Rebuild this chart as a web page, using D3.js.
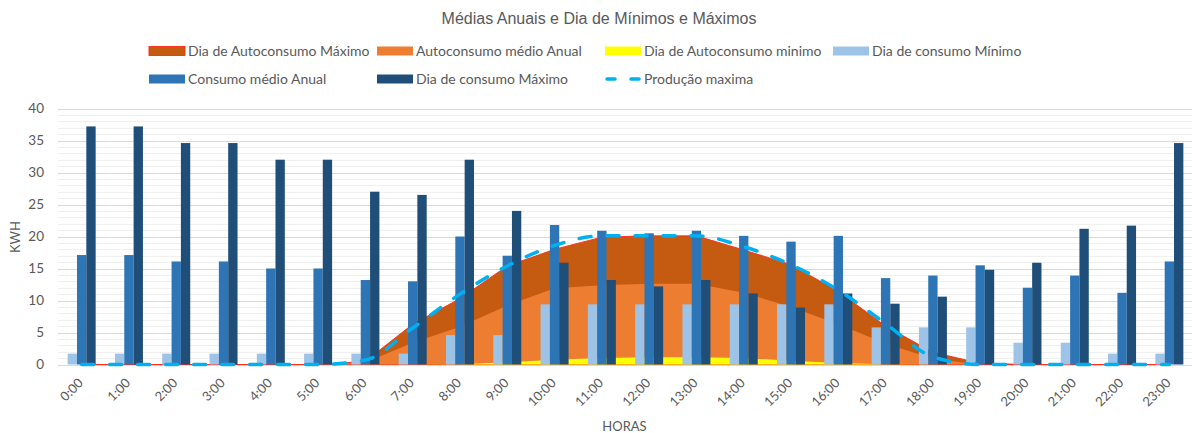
<!DOCTYPE html>
<html>
<head>
<meta charset="utf-8">
<script src="https://cdn.jsdelivr.net/npm/d3@7"></script>
<style>
  html, body { margin: 0; padding: 0; background: #fff; }
  svg { display: block; }
  text { font-family: Lato, "Open Sans", sans-serif; fill: #595959; }
</style>
</head>
<body>
<svg id="chart" width="1192" height="433"></svg>
<script>
// Hourly categories
const hours = ["0:00","1:00","2:00","3:00","4:00","5:00","6:00","7:00","8:00","9:00","10:00","11:00",
               "12:00","13:00","14:00","15:00","16:00","17:00","18:00","19:00","20:00","21:00","22:00","23:00"];

// Self-consumption areas (kWh)
const autoconsumoMaximo = [0,0,0,0,0,0,0.5,6.3,10.3,15.4,18.0,19.9,20.1,20.1,17.9,15.6,11.4,6.0,1.9,0.2,0,0,0,0];
const autoconsumoMedio  = [0,0,0,0,0,0,0.3,3.4,5.9,9.2,11.9,12.4,12.6,12.6,11.2,9.0,6.3,3.3,0.9,0,0,0,0,0];
const autoconsumoMinimo = [0,0,0,0,0,0,0,0,0.05,0.35,0.75,1.0,1.15,1.15,1.0,0.6,0.25,0.05,0,0,0,0,0,0];

// Consumption columns (kWh)
const consumoMinimo = [1.7,1.7,1.7,1.7,1.7,1.7,1.7,1.7,4.6,4.6,9.4,9.4,9.4,9.4,9.4,9.4,9.4,5.8,5.8,5.8,3.4,3.4,1.7,1.7];
const consumoMedio  = [17.1,17.1,16.1,16.1,15.0,15.0,13.2,13.0,20.0,17.0,21.8,20.9,20.5,20.9,20.1,19.2,20.1,13.5,13.9,15.5,12.0,13.9,11.2,16.1];
const consumoMaximo = [37.2,37.2,34.6,34.6,32.0,32.0,27.0,26.5,32.0,24.0,15.9,13.2,12.2,13.2,11.1,8.9,11.1,9.5,10.6,14.8,15.9,21.2,21.7,34.6];

// Maximum production line (kWh)
const producaoMaxima = [0,0,0,0,0,0,0.7,5.7,11.0,15.4,18.6,20.1,20.1,20.1,18.4,15.6,11.6,6.4,1.2,0,0,0,0,0];

// Axis ticks
const yTicks = [0,5,10,15,20,25,30,35,40];

const titleText = "Médias Anuais e Dia de Mínimos e Máximos";
const xTitle = "HORAS";
const yTitle = "KWH";

const colors = {
  autoMax: "#C55A11", autoMaxLine: "#FF2A1A", autoMed: "#ED7D31", autoMin: "#FFFF00",
  consMin: "#9DC3E6", consMed: "#2E75B6", consMax: "#1F4E79", prod: "#00B0F0"
};

const svg = d3.select("#chart");
const plot = { left: 58, right: 1193, top: 108.5, bottom: 364.5 };

const x = d3.scaleBand().domain(hours).range([plot.left, plot.right]).paddingInner(0).paddingOuter(0);
const cx = h => x(h) + x.bandwidth() / 2;
const y = d3.scaleLinear().domain([0, 40]).range([plot.bottom, plot.top]);

// Gridlines: light minor every unit, stronger major every 5
const gridG = svg.append("g");
gridG.selectAll("line.minor")
  .data(d3.range(1, 40).filter(v => v % 5 !== 0))
  .join("line")
  .attr("x1", plot.left).attr("x2", plot.right)
  .attr("y1", d => Math.round(y(d)) + 0.5).attr("y2", d => Math.round(y(d)) + 0.5)
  .attr("stroke", "#f0f0f0").attr("stroke-width", 1);
gridG.selectAll("line.major")
  .data(yTicks)
  .join("line")
  .attr("x1", plot.left).attr("x2", plot.right)
  .attr("y1", d => Math.round(y(d)) + 0.5).attr("y2", d => Math.round(y(d)) + 0.5)
  .attr("stroke", "#d9d9d9").attr("stroke-width", 1);

// Areas
const areaGen = vals => d3.area()
  .x((d, i) => cx(hours[i]))
  .y0(y(0))
  .y1(d => y(d))(vals);

svg.append("path").attr("d", areaGen(autoconsumoMaximo))
  .attr("fill", colors.autoMax).attr("stroke", colors.autoMaxLine).attr("stroke-width", 0.9);
svg.append("path").attr("d", areaGen(autoconsumoMedio)).attr("fill", colors.autoMed);
svg.append("path").attr("d", areaGen(autoconsumoMinimo)).attr("fill", colors.autoMin);

// Clustered columns
const seriesBars = [
  { key: "min", values: consumoMinimo, color: colors.consMin },
  { key: "med", values: consumoMedio, color: colors.consMed },
  { key: "max", values: consumoMaximo, color: colors.consMax }
];
const groupW = 28;
const xInner = d3.scaleBand().domain(seriesBars.map(s => s.key)).range([0, groupW]).padding(0);
const barsG = svg.append("g");
seriesBars.forEach(s => {
  barsG.append("g").selectAll("rect")
    .data(s.values)
    .join("rect")
    .attr("x", (d, i) => x(hours[i]) + (x.bandwidth() - groupW) / 2 + xInner(s.key))
    .attr("width", xInner.bandwidth())
    .attr("y", d => y(d))
    .attr("height", d => y(0) - y(d))
    .attr("fill", s.color);
});

// Maximum production dashed line
const lineGen = d3.line()
  .x((d, i) => cx(hours[i]))
  .y(d => y(d))
  .curve(d3.curveMonotoneX);
svg.append("path").attr("d", lineGen(producaoMaxima))
  .attr("fill", "none").attr("stroke", colors.prod).attr("stroke-width", 3.5)
  .attr("stroke-dasharray", "12 16").attr("stroke-linecap", "round");

// Y axis
const yAxis = svg.append("g")
  .attr("transform", `translate(${plot.left - 14},0)`)
  .call(d3.axisLeft(y).tickValues(yTicks).tickSize(0).tickPadding(0));
yAxis.select(".domain").remove();
yAxis.selectAll("text").style("font-size", "13.5px").attr("fill", "#595959")
  .style("font-family", "Lato, sans-serif");

// X axis
const xAxis = svg.append("g")
  .attr("transform", `translate(0,${plot.bottom})`)
  .call(d3.axisBottom(x).tickSize(0).tickPadding(0));
xAxis.select(".domain").remove();
xAxis.selectAll("text")
  .style("font-size", "13px").attr("fill", "#595959")
  .style("font-family", "Lato, sans-serif")
  .attr("text-anchor", "end")
  .attr("dy", "0.35em")
  .attr("transform", "translate(-1,16) rotate(-45)");

// Titles
svg.append("text").attr("x", 599).attr("y", 24).attr("text-anchor", "middle")
  .style("font-family", "'Liberation Sans', Arial, sans-serif").style("font-size", "16px")
  .text(titleText);
svg.append("text").attr("x", (plot.left + plot.right) / 2 - 1).attr("y", 431).attr("text-anchor", "middle")
  .style("font-size", "13px").text(xTitle);
svg.append("text").attr("transform", "translate(20,237) rotate(-90)").attr("text-anchor", "middle")
  .style("font-size", "13px").text(yTitle);

// Legend
const legendItems = [
  { label: "Dia de Autoconsumo Máximo", kind: "area", fill: colors.autoMax, stroke: colors.autoMaxLine, col: 0, row: 0 },
  { label: "Autoconsumo médio Anual", kind: "area", fill: colors.autoMed, col: 1, row: 0 },
  { label: "Dia de Autoconsumo minimo", kind: "area", fill: colors.autoMin, col: 2, row: 0 },
  { label: "Dia de consumo Mínimo", kind: "bar", fill: colors.consMin, col: 3, row: 0 },
  { label: "Consumo médio Anual", kind: "bar", fill: colors.consMed, col: 0, row: 1 },
  { label: "Dia de consumo Máximo", kind: "bar", fill: colors.consMax, col: 1, row: 1 },
  { label: "Produção maxima", kind: "line", fill: colors.prod, col: 2, row: 1 }
];
const legCols = [149, 377, 605, 833];
const legRows = [51, 79];
const legG = svg.append("g");
legendItems.forEach(it => {
  const gx = legCols[it.col], gy = legRows[it.row];
  const g = legG.append("g").attr("transform", `translate(${gx},${gy})`);
  if (it.kind === "line") {
    g.append("line").attr("x1", 2).attr("x2", 36).attr("y1", 0).attr("y2", 0)
      .attr("stroke", it.fill).attr("stroke-width", 3.5)
      .attr("stroke-dasharray", "8 16").attr("stroke-linecap", "round");
  } else {
    g.append("rect").attr("x", 0).attr("y", -4.5).attr("width", 36).attr("height", 9)
      .attr("fill", it.fill)
      .attr("stroke", it.stroke || "none").attr("stroke-width", it.stroke ? 0.9 : 0);
  }
  g.append("text").attr("x", 39).attr("y", 0).attr("dy", "0.35em")
    .style("font-size", "14px").text(it.label);
});
</script>
</body>
</html>
